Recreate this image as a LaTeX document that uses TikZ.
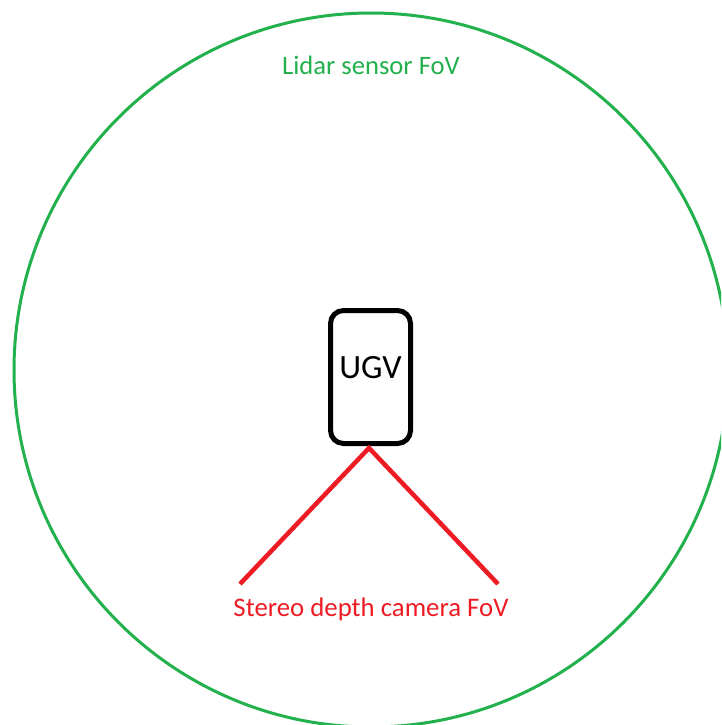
\documentclass[tikz,border=0pt]{standalone}
\usepackage{fontspec}
\setmainfont{Carlito}
\definecolor{lidargreen}{RGB}{34,177,76}
\definecolor{camred}{RGB}{237,28,36}
\begin{document}
\begin{tikzpicture}[x=1pt,y=-1pt,
  lidar/.style={draw=lidargreen,line width=3pt},
  ugvbox/.style={draw=black,line width=5pt,rounded corners=13pt,
    minimum width=80pt,minimum height=133pt,inner sep=0pt},
  ugvlabel/.style={font=\fontsize{34}{38}\selectfont,inner sep=0pt},
  fovline/.style={draw=camred,line width=4.5pt},
  lidarlabel/.style={text=lidargreen,font=\fontsize{26.6}{30}\selectfont},
  camlabel/.style={text=camred,font=\fontsize{26.8}{30}\selectfont}]
  \useasboundingbox (0,0) rectangle (721,725);
  \clip (0,0) rectangle (721,725);
  \fill[white] (0,0) rectangle (721,725);
  % lidar coverage
  \node[circle,lidar,minimum size=714pt,inner sep=0pt] (lidar) at (371,370) {};
  \node[lidarlabel] (lidartxt) at (371,65) {Lidar sensor FoV};
  % vehicle, its name set a little above the middle of the box
  \node[ugvbox] (ugv) at (370.5,377) {};
  \node[ugvlabel] (ugvtxt) at ([yshift=9pt]ugv.center) {UGV};
  % camera field of view
  \coordinate (apex) at (369,448);
  \coordinate (camL) at (240,584);
  \coordinate (camR) at (498,584);
  \draw[fovline] (camL) -- (apex) -- (camR);
  \node[camlabel] (camtxt) at (371,609) {Stereo depth camera FoV};
\end{tikzpicture}
\end{document}
